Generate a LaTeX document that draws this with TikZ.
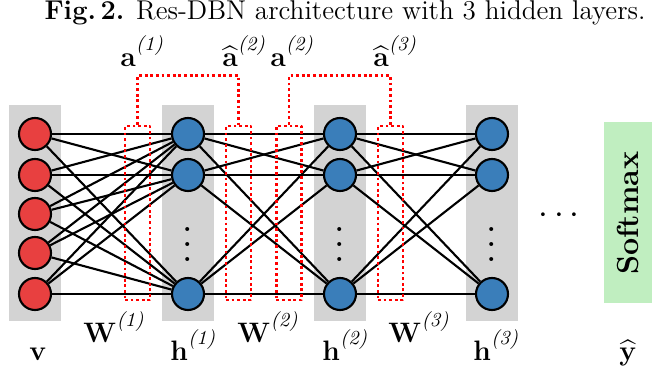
\documentclass[tikz,border=0pt]{standalone}
\usepackage{amsmath}
\usepackage{graphicx}
\definecolor{visred}{RGB}{232,64,64}
\definecolor{hidblue}{RGB}{58,126,186}
\definecolor{layergray}{RGB}{211,211,211}
\definecolor{softgreen}{RGB}{192,238,192}
\newcommand{\layidx}[1]{^{\raisebox{2.5pt}{\fontsize{8.5}{9}\selectfont\itshape(#1)}}}
\begin{document}
\begin{tikzpicture}[x=0.015cm, y=-0.015cm, line join=round,
	unit/.style={circle, draw=black, line width=0.9pt, minimum size=0.48cm, inner sep=0pt},
	vis/.style={unit, fill=visred},
	hid/.style={unit, fill=hidblue},
	skip/.style={draw=red, line width=1.1pt, dash pattern=on 1.2pt off 1.2pt},
	resbox/.style={skip, minimum width=0.375cm, minimum height=2.61cm, inner sep=0pt},
	lab/.style={inner sep=0pt, anchor=base west, font=\fontsize{11.5}{14}\selectfont}]
	\useasboundingbox (0,0) rectangle (652,367);
	\node[anchor=base, font=\fontsize{11.6}{14}\selectfont] (title) at (345,20) {\textbf{Fig.\,2.} Res-DBN architecture with 3 hidden layers.};
	% layers
	\fill[layergray] (9,105) rectangle (61,321);
	\fill[layergray] (162,105) rectangle (214,321);
	\fill[layergray] (314,105) rectangle (366,321);
	\fill[layergray] (466,105) rectangle (518,321);
	\fill[softgreen] (604,122) rectangle (652,303);
	\node[rotate=90, font=\fontsize{13}{15}\selectfont\bfseries] (softmax) at (628,213) {Softmax};
	% units
	\foreach \i/\y in {1/134,2/175,3/214,4/253,5/294}
		\node[vis] (v\i) at (35,\y) {};
	\foreach \l/\x in {1/188,2/340,3/492}{
		\node[hid] (h\l a) at (\x,134) {};
		\node[hid] (h\l b) at (\x,175) {};
		\node[hid] (h\l c) at (\x,294) {};
		\node[inner sep=0pt] (d\l) at (\x,233) {\scalebox{1.6}{$\vdots$}};
	}
	\node[inner sep=0pt] (dots) at (562,216) {\scalebox{1.5}{$\cdots$}};
	% weights
	\foreach \i in {1,...,5}
		\foreach \j in {a,b,c}
			\draw[line width=0.9pt] (v\i) -- (h1\j);
	\foreach \i in {a,b,c}
		\foreach \j in {a,b,c}{
			\draw[line width=0.9pt] (h1\i) -- (h2\j);
			\draw[line width=0.9pt] (h2\i) -- (h3\j);
		}
	% residual boxes
	\node[resbox] (b1) at (137.5,213) {};
	\node[resbox] (b2) at (238.5,213) {};
	\node[resbox] (b3) at (289,213) {};
	\node[resbox] (b4) at (390.5,213) {};
	\draw[skip] (b1.north) -- ++(0,-49) -| (b2.north);
	\draw[skip] (b3.north) -- ++(0,-49) -| (b4.north);
	% labels
	\node[lab] (la1) at (120,67) {$\mathbf{a}\layidx{1}$};
	\node[lab] (lah2) at (222,67) {$\widehat{\mathbf{a}}\layidx{2}$};
	\node[lab] (la2) at (270,67) {$\mathbf{a}\layidx{2}$};
	\node[lab] (lah3) at (373,67) {$\widehat{\mathbf{a}}\layidx{3}$};
	\node[lab] (lw1) at (83,343) {$\mathbf{W}\layidx{1}$};
	\node[lab] (lw2) at (237,343) {$\mathbf{W}\layidx{2}$};
	\node[lab] (lw3) at (388,343) {$\mathbf{W}\layidx{3}$};
	\node[lab] (lv) at (29,361) {$\mathbf{v}$};
	\node[lab] (lh1) at (170,361) {$\mathbf{h}\layidx{1}$};
	\node[lab] (lh2) at (322,361) {$\mathbf{h}\layidx{2}$};
	\node[lab] (lh3) at (473,361) {$\mathbf{h}\layidx{3}$};
	\node[lab] (ly) at (619,361) {$\widehat{\mathbf{y}}$};
\end{tikzpicture}
\end{document}
